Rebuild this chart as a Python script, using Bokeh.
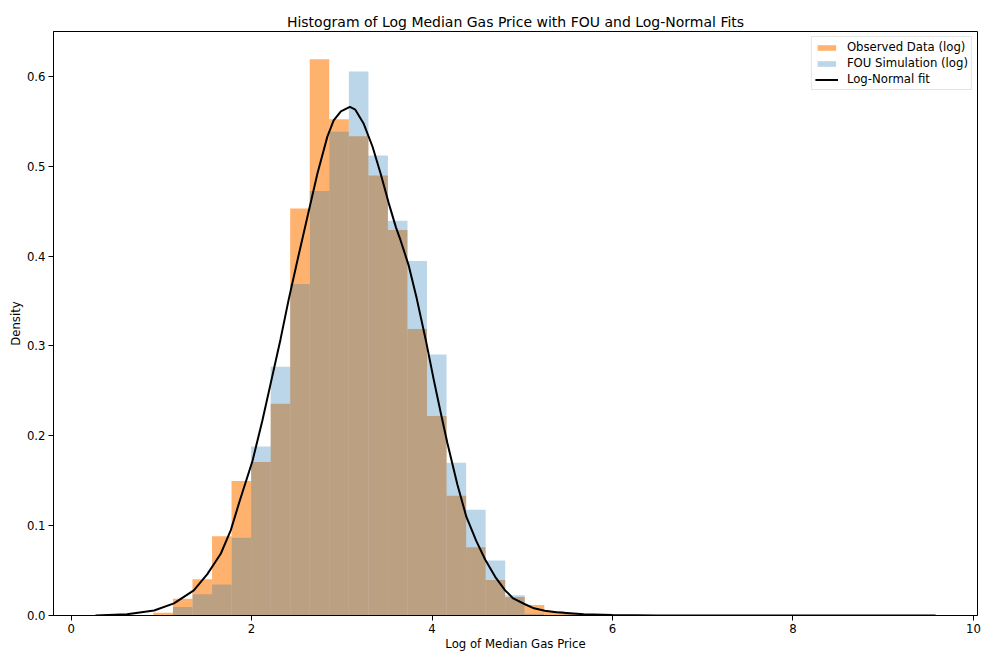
from bokeh.plotting import figure
from bokeh.models import Range1d, FixedTicker, PrintfTickFormatter, Legend, LegendItem
from bokeh.embed import file_html
from bokeh.resources import INLINE

# ---- data ----
bin_edges = [0.912, 1.129, 1.345, 1.562, 1.778, 1.995, 2.212, 2.428, 2.645, 2.861,
             3.078, 3.295, 3.511, 3.728, 3.944, 4.161, 4.378, 4.594, 4.811, 5.027,
             5.244, 5.461, 5.677]
observed_density = [0.003, 0.0187, 0.0403, 0.0883, 0.1497, 0.1709, 0.2358, 0.4529,
                    0.619, 0.5524, 0.5335, 0.4896, 0.4291, 0.3189, 0.2221, 0.1332,
                    0.076, 0.0395, 0.0205, 0.0117, 0.005, 0.002]
fou_density = [0.0, 0.0095, 0.0236, 0.0345, 0.0865, 0.188, 0.277, 0.369,
               0.4725, 0.5385, 0.6055, 0.512, 0.4395, 0.3945, 0.2905, 0.170,
               0.1177, 0.0612, 0.0225, 0.002, 0.0, 0.002]
fit_x = [0.27, 0.62, 0.92, 1.14, 1.36, 1.51, 1.66, 1.77, 1.87, 2.01, 2.12, 2.22,
         2.32, 2.41, 2.51, 2.62, 2.73, 2.84, 2.91, 2.99, 3.09, 3.15, 3.24, 3.34,
         3.43, 3.52, 3.60, 3.65, 3.74, 3.83, 3.93, 4.02, 4.10, 4.17, 4.28, 4.38,
         4.49, 4.59, 4.70, 4.81, 4.90, 5.03, 5.13, 5.25, 5.38, 5.68, 6.0, 6.5,
         7.5, 9.58]
fit_y = [0.0, 0.0015, 0.0055, 0.0135, 0.028, 0.046, 0.069, 0.095, 0.128, 0.172,
         0.217, 0.262, 0.307, 0.351, 0.396, 0.444, 0.492, 0.533, 0.551, 0.561,
         0.566, 0.563, 0.548, 0.522, 0.492, 0.459, 0.432, 0.418, 0.390, 0.353,
         0.307, 0.262, 0.224, 0.192, 0.146, 0.110, 0.083, 0.062, 0.043, 0.028,
         0.019, 0.0125, 0.008, 0.0052, 0.0035, 0.0015, 0.0006, 0.0001, 0.0, 0.0]
x_ticks = [0, 2, 4, 6, 8, 10]
y_ticks = [0.0, 0.1, 0.2, 0.3, 0.4, 0.5, 0.6]

title = "Histogram of Log Median Gas Price with FOU and Log-Normal Fits"
x_label = "Log of Median Gas Price"
y_label = "Density"

FONT = "DejaVu Sans"
SMALL = "11.7px"

p = figure(width=981, height=653, output_backend="svg", toolbar_location=None,
           x_range=Range1d(-0.195, 10.045), y_range=Range1d(0, 0.650),
           title=title, min_border_left=53, min_border_right=4,
           min_border_top=31, min_border_bottom=38)

p.title.align = "center"
p.title.text_font = FONT
p.title.text_font_size = "14px"
p.title.text_font_style = "normal"
p.title.text_color = "black"
p.title.standoff = 4

p.xgrid.visible = False
p.ygrid.visible = False
p.outline_line_color = "black"
p.outline_line_alpha = 1.0
p.outline_line_width = 1

for ax in (p.xaxis[0], p.yaxis[0]):
    ax.axis_line_color = "black"
    ax.major_tick_line_color = "black"
    ax.minor_tick_line_color = None
    ax.major_tick_out = 5
    ax.major_tick_in = 0
    ax.major_label_text_font = FONT
    ax.major_label_text_font_size = SMALL
    ax.major_label_text_color = "black"
    ax.axis_label_text_font = FONT
    ax.axis_label_text_font_size = SMALL
    ax.axis_label_text_font_style = "normal"
    ax.axis_label_text_color = "black"
    ax.axis_label_standoff = 1
    ax.major_label_standoff = 3

p.xaxis.axis_label = x_label
p.yaxis.axis_label = y_label
p.xaxis.ticker = FixedTicker(ticks=x_ticks)
p.yaxis.ticker = FixedTicker(ticks=y_ticks)
p.xaxis.formatter = PrintfTickFormatter(format="%d")
p.yaxis.formatter = PrintfTickFormatter(format="%.1f")

obs = p.quad(left=bin_edges[:-1], right=bin_edges[1:], bottom=0, top=observed_density,
             fill_color="#ff7f0e", fill_alpha=0.6, line_color=None)
fou = p.quad(left=bin_edges[:-1], right=bin_edges[1:], bottom=0, top=fou_density,
             fill_color="#1f77b4", fill_alpha=0.3, line_color=None)
fit = p.line(fit_x, fit_y, line_color="black", line_width=2)

legend = Legend(items=[
    LegendItem(label="Observed Data (log)", renderers=[obs]),
    LegendItem(label="FOU Simulation (log)", renderers=[fou]),
    LegendItem(label="Log-Normal fit", renderers=[fit]),
], location="top_right")
legend.label_text_font = FONT
legend.label_text_font_size = SMALL
legend.label_text_color = "black"
legend.label_height = 13
legend.glyph_height = 7
legend.glyph_width = 23
legend.spacing = 2
legend.padding = 3
legend.margin = 5
legend.label_standoff = 9
legend.border_line_color = "#cccccc"
legend.border_line_width = 1
legend.background_fill_alpha = 0.8
p.add_layout(legend)

open("out.html", "w").write(file_html(p, INLINE))
